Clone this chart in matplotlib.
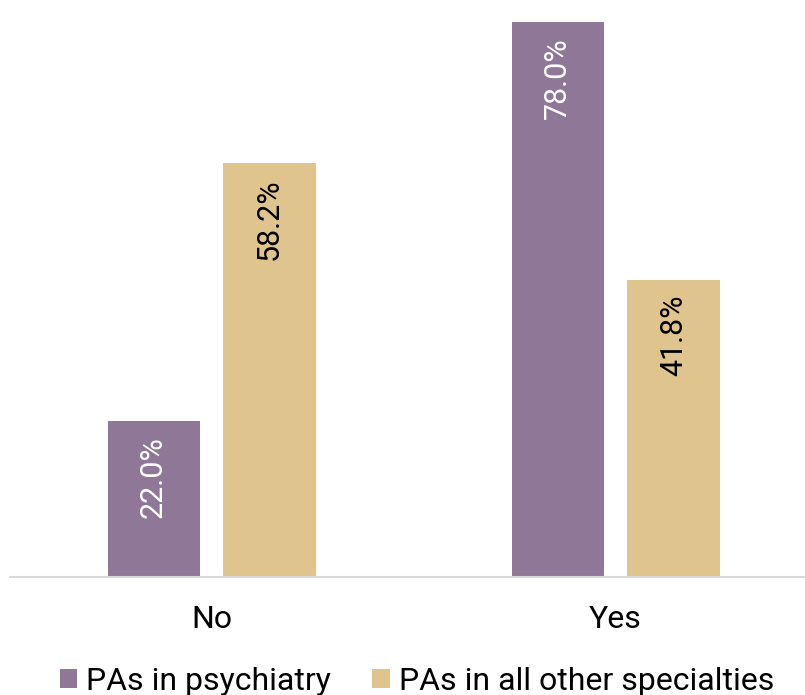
import matplotlib.pyplot as plt
from matplotlib.patches import Patch
import numpy as np

plt.rcParams['font.family'] = ['Roboto', 'DejaVu Sans']

categories = ['No', 'Yes']
psychiatry = [22.0, 78.0]
other_specialties = [58.2, 41.8]
series_names = ['PAs in psychiatry', 'PAs in all other specialties']

PURPLE = '#8e7797'
TAN = '#dfc48e'

fig = plt.figure(figsize=(8.05, 6.95), dpi=100)
ax = fig.add_axes([10 / 805, (695 - 577) / 695, 795 / 805, (577 - 8) / 695])

x = np.arange(len(categories))
width = 0.228
offset = (width + 0.059) / 2

bars1 = ax.bar(x - offset, psychiatry, width, color=PURPLE)
bars2 = ax.bar(x + offset, other_specialties, width, color=TAN)

for bars, txt_color in ((bars1, 'white'), (bars2, 'black')):
    for b in bars:
        h = b.get_height()
        ax.annotate(f'{h:.1f}%', (b.get_x() + b.get_width() / 2, h),
                    xytext=(0, -11), textcoords='offset points',
                    rotation=90, ha='center', va='top',
                    fontsize=22, color=txt_color)

ax.set_xlim(-0.499, 1.469)
ax.set_ylim(0, 80)
ax.set_xticks(x)
ax.set_xticklabels(categories, fontsize=23)
ax.tick_params(axis='x', length=0, pad=20)
ax.set_yticks([])
for side in ('left', 'right', 'top'):
    ax.spines[side].set_visible(False)
ax.spines['bottom'].set_color('#d9d9d9')
ax.spines['bottom'].set_linewidth(1.5)

handles = [Patch(facecolor=PURPLE), Patch(facecolor=TAN)]
fig.legend(handles, series_names, loc='center', bbox_to_anchor=(0.518, 0.02),
           ncol=2, frameon=False, fontsize=23, handlelength=0.55,
           handleheight=0.55, handletextpad=0.28, columnspacing=1.28)

fig.savefig('out.png', dpi=100)
